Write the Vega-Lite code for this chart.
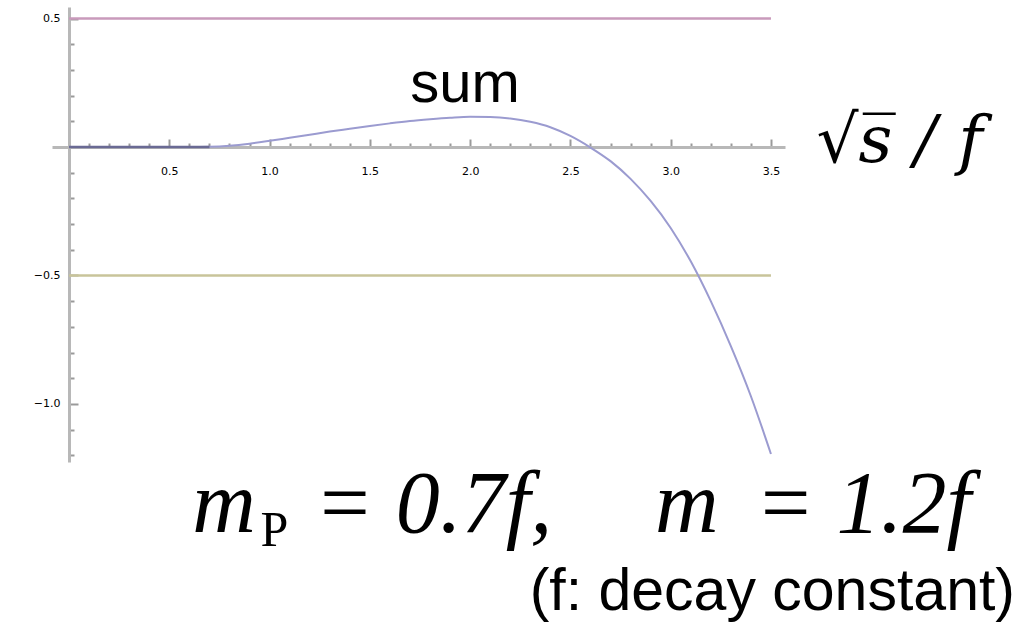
{
  "$schema": "https://vega.github.io/schema/vega-lite/v6.json",
  "width": 733,
  "height": 455,
  "autosize": {"type": "none"},
  "padding": {"left": 52, "top": 7, "right": 245, "bottom": 162},
  "background": "white",
  "config": {"view": {"stroke": null}},
  "title": {
    "text": "m\u2002\u2006= 0.7f,\u2003\u2006m \u2006= 1.2f\u00a0\u00a0\u200b",
    "subtitle": "(f: decay constant)",
    "orient": "bottom",
    "anchor": "end",
    "frame": "group",
    "font": "Liberation Serif",
    "fontSize": 88,
    "fontStyle": "italic",
    "fontWeight": "normal",
    "color": "black",
    "subtitleFont": "Liberation Sans",
    "subtitleFontSize": 59,
    "subtitleFontStyle": "normal",
    "subtitleColor": "black",
    "subtitlePadding": 13,
    "offset": -93,
    "dx": 230
  },
  "datasets": {
    "levels": [
      {"level": "upper", "x": 0, "y": 0.5},
      {"level": "upper", "x": 3.5, "y": 0.5},
      {"level": "lower", "x": 0, "y": -0.5},
      {"level": "lower", "x": 3.5, "y": -0.5}
    ],
    "base": [
      {"x": 0, "y": 0},
      {"x": 0.7, "y": 0}
    ],
    "sum": [
      {"x": 0.0, "y": 0},
      {"x": 0.1, "y": 0},
      {"x": 0.2, "y": 0},
      {"x": 0.3, "y": 0},
      {"x": 0.4, "y": 0},
      {"x": 0.5, "y": 0},
      {"x": 0.6, "y": 0},
      {"x": 0.7, "y": 0.001},
      {"x": 0.8, "y": 0.005},
      {"x": 0.9, "y": 0.013},
      {"x": 1.0, "y": 0.024},
      {"x": 1.1, "y": 0.036},
      {"x": 1.2, "y": 0.048},
      {"x": 1.3, "y": 0.06},
      {"x": 1.4, "y": 0.071},
      {"x": 1.5, "y": 0.082},
      {"x": 1.6, "y": 0.092},
      {"x": 1.7, "y": 0.101},
      {"x": 1.8, "y": 0.108},
      {"x": 1.9, "y": 0.114},
      {"x": 2.0, "y": 0.118},
      {"x": 2.1, "y": 0.117},
      {"x": 2.2, "y": 0.111},
      {"x": 2.3, "y": 0.098},
      {"x": 2.4, "y": 0.077},
      {"x": 2.5, "y": 0.043},
      {"x": 2.6, "y": -0.002},
      {"x": 2.7, "y": -0.055},
      {"x": 2.8, "y": -0.124},
      {"x": 2.9, "y": -0.21},
      {"x": 3.0, "y": -0.315},
      {"x": 3.1, "y": -0.445},
      {"x": 3.2, "y": -0.6},
      {"x": 3.3, "y": -0.775},
      {"x": 3.4, "y": -0.97},
      {"x": 3.5, "y": -1.195}
    ]
  },
  "encoding": {
    "x": {
      "field": "x",
      "type": "quantitative",
      "scale": {"domain": [-0.085, 3.57], "nice": false, "zero": false},
      "axis": {
        "values": [0.1, 0.2, 0.3, 0.4, 0.5, 0.6, 0.7, 0.8, 0.9, 1.0, 1.1, 1.2, 1.3, 1.4, 1.5, 1.6, 1.7, 1.8, 1.9, 2.0, 2.1, 2.2, 2.3, 2.4, 2.5, 2.6, 2.7, 2.8, 2.9, 3.0, 3.1, 3.2, 3.3, 3.4, 3.5],
        "labelExpr": "abs(datum.value * 2 - round(datum.value * 2)) < 0.001 ? format(datum.value, '.1f') : ''",
        "tickSize": {"condition": {"test": "abs(datum.value * 2 - round(datum.value * 2)) < 0.001", "value": -8}, "value": -4},
        "offset": -315,
        "grid": false,
        "domainColor": "#b8b8b8",
        "domainWidth": 3,
        "tickColor": "#9a9a9a",
        "tickWidth": 2,
        "labelFont": "DejaVu Sans",
        "labelFontSize": 11,
        "labelColor": "black",
        "labelPadding": 26,
        "labelFlush": false,
        "labelOverlap": false,
        "title": "√s̅\u2004/\u2004f",
        "titleX": 764,
        "titleY": 14,
        "titleAlign": "left",
        "titleBaseline": "alphabetic",
        "titleAngle": 0,
        "titleFont": "DejaVu Serif",
        "titleFontSize": 66,
        "titleFontStyle": "italic",
        "titleFontWeight": "normal",
        "titleColor": "black"
      }
    },
    "y": {
      "field": "y",
      "type": "quantitative",
      "scale": {"domain": [-1.226, 0.545], "nice": false, "zero": false},
      "axis": {
        "values": [0.5, 0.4, 0.3, 0.2, 0.1, -0.1, -0.2, -0.3, -0.4, -0.5, -0.6, -0.7, -0.8, -0.9, -1.0, -1.1, -1.2],
        "labelExpr": "abs(datum.value * 2 - round(datum.value * 2)) < 0.001 ? format(datum.value, '.1f') : ''",
        "tickSize": {"condition": {"test": "abs(datum.value * 2 - round(datum.value * 2)) < 0.001", "value": -9}, "value": -5},
        "offset": -17,
        "grid": false,
        "domainColor": "#b8b8b8",
        "domainWidth": 3,
        "tickColor": "#9a9a9a",
        "tickWidth": 2,
        "labelFont": "DejaVu Sans",
        "labelFontSize": 11,
        "labelColor": "black",
        "labelPadding": 18,
        "labelFlush": false,
        "labelOverlap": false,
        "title": "P",
        "titleX": 191,
        "titleY": 538,
        "titleAlign": "left",
        "titleBaseline": "alphabetic",
        "titleAngle": 0,
        "titleFont": "Liberation Serif",
        "titleFontSize": 50,
        "titleFontWeight": "normal",
        "titleColor": "black"
      }
    }
  },
  "layer": [
    {
      "data": {"name": "levels"},
      "mark": {"type": "line", "strokeWidth": 2.5},
      "encoding": {
        "color": {
          "field": "level",
          "type": "nominal",
          "scale": {"domain": ["upper", "lower"], "range": ["#c99abb", "#c8c49a"]},
          "legend": null
        }
      }
    },
    {
      "data": {"name": "sum"},
      "mark": {"type": "line", "color": "#9b9bd0", "strokeWidth": 2, "interpolate": "monotone"}
    },
    {
      "data": {"name": "base"},
      "mark": {"type": "line", "color": "#6a6a94", "strokeWidth": 2.5}
    },
    {
      "data": {"name": "sum"},
      "transform": [{"filter": "datum.x == 2"}],
      "mark": {
        "type": "text",
        "text": "sum",
        "font": "Liberation Sans",
        "fontSize": 58,
        "color": "black",
        "align": "center",
        "baseline": "alphabetic",
        "dx": -5,
        "dy": -15
      }
    }
  ]
}
